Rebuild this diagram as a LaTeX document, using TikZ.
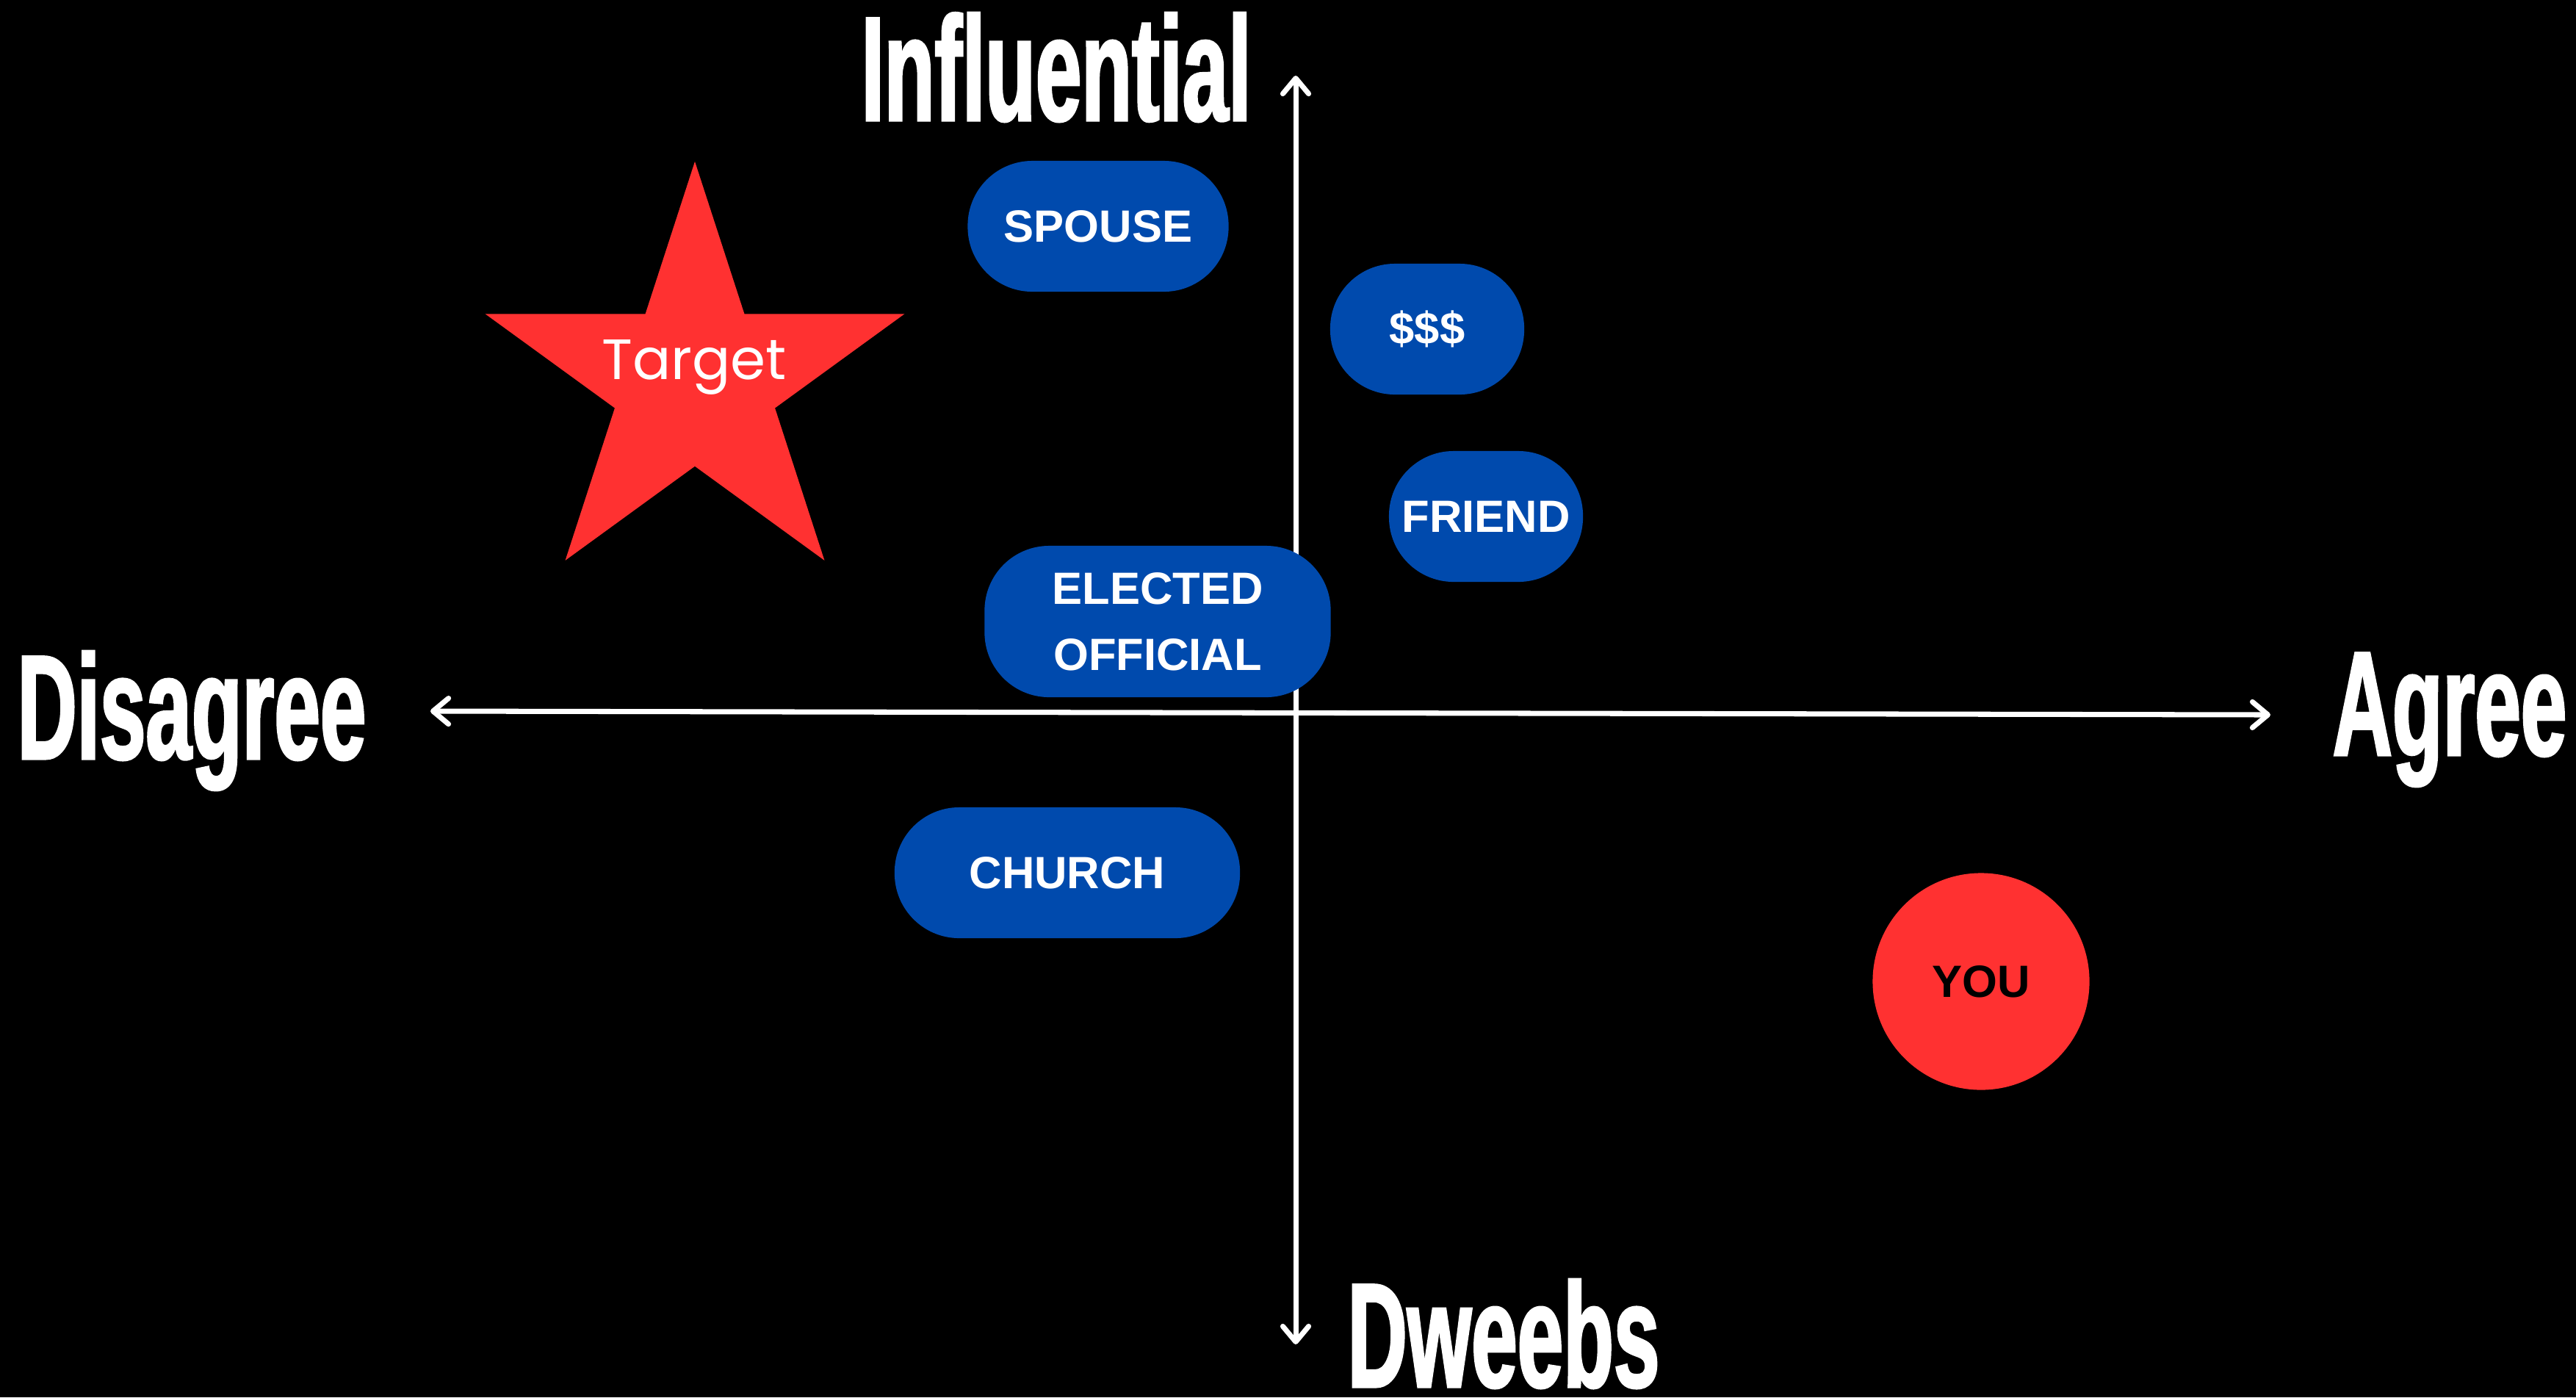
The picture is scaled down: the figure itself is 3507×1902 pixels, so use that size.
\documentclass[tikz,border=0pt]{standalone}
\usepackage{fontspec}
\usepackage{xcolor}
\usetikzlibrary{shapes,shapes.geometric,arrows.meta,positioning}
\setmainfont{Liberation Sans}
\newfontfamily\axisfont[FakeStretch=0.555,FakeBold=1.5]{Liberation Sans}
\newfontfamily\targetfont{Poppins}
\definecolor{pillblue}{HTML}{004AAD}
\definecolor{hotred}{HTML}{FF3131}

\begin{document}
\begin{tikzpicture}[x=0.01cm,y=-0.01cm,
	  every node/.style={align=center,text=white,draw=none},
	  axisline/.style={draw=white,line width=2pt,{Straight Barb[round,length=6pt,width=10pt]}-{Straight Barb[round,length=6pt,width=10pt]}},
	  axislabel/.style={anchor=base,font=\axisfont\bfseries\fontsize{57.6}{60}\selectfont},
	  pill/.style={rectangle,rounded corners=0.88cm,fill=pillblue,inner sep=0pt,minimum height=1.78cm,font=\bfseries\fontsize{17.5}{25.6}\selectfont},
	  targetstar/.style={star,star points=5,star point ratio=2.618,fill=hotred,inner sep=0pt,minimum size=6cm},
	  targetlabel/.style={anchor=base,font=\targetfont\fontsize{22}{26}\selectfont},
	  youdot/.style={circle,fill=hotred,text=black,inner sep=0pt,minimum size=2.95cm,font=\bfseries\fontsize{17.5}{21}\selectfont}]

	  % Background and page size
	  \useasboundingbox (0,0) rectangle (3507,1902);
	  \fill[black] (0,0) rectangle (3507,1902);

	  % The two axes
	  \coordinate (ytop) at (1764,103);
	  \coordinate (ybottom) at (1764,1830);
	  \coordinate (xleft) at (586,968);
	  \coordinate (xright) at (3091,973);
	  \draw[axisline] (ybottom) -- (ytop);
	  \draw[axisline] (xleft) -- (xright);

	  \node[axislabel] (influential) at (1438,164) {Influential};
	  \node[axislabel] (disagree) at (261,1033) {Disagree};
	  \node[axislabel] (agree) at (3335,1028) {Agree};
	  \node[axislabel] (dweebs) at (2047,1888) {Dweebs};

	  % The people on the map
	  \node[pill,minimum width=3.55cm] (spouse) at (1495,308) {SPOUSE};
	  \node[pill,minimum width=2.64cm] (money) at (1943,448) {\$\$\$};
	  \node[pill,minimum width=2.64cm] (friend) at (2023,703) {FRIEND};
	  \node[pill,minimum width=4.71cm,minimum height=2.06cm] (elected) at (1576,846) {ELECTED\\OFFICIAL};
	  \node[pill,minimum width=4.70cm] (church) at (1453,1188) {CHURCH};

	  \node[targetstar] (target) at (946,520) {};
	  \node[targetlabel] (targettext) at (945,516) {Target};

	  \node[youdot] (you) at (2697,1336) {YOU};

\end{tikzpicture}
\end{document}
